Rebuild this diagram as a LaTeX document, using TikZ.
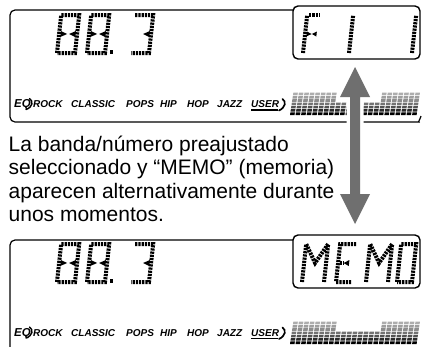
\documentclass[tikz,border=0pt]{standalone}
\usepackage{fontspec}
\setmainfont{Liberation Sans}
\usetikzlibrary{calc}
\definecolor{arrowgray}{HTML}{6F6F6F}
\tikzset{
  panel/.style={line width=1.2pt, draw=black, rounded corners=5pt},
  lcdbox/.style={line width=1.4pt, draw=black, rounded corners=5pt},
  segline/.style={line width=4pt, dash pattern=on 2.2pt off 1pt},
  desc/.style={anchor=base west, inner sep=0pt, font=\fontsize{21}{23}\selectfont},
  eqlab/.style={anchor=base west, inner sep=0pt, font=\fontsize{10}{10}\selectfont\bfseries\itshape},
  eqbig/.style={anchor=base west, inner sep=0pt, font=\fontsize{11.5}{12}\selectfont\bfseries\itshape},
  curl/.style={line width=1.4pt, line cap=round},
}
\newcommand\DigitScope[3]{\begin{scope}[shift={(#1,#2)}, xslant=0.11]#3\end{scope}}
\newcommand\GLeft{\fill (1.5,-16) -- (8,-19) -- (1.5,-22) -- cycle;}
\newcommand\GRight[1]{\fill ({#1-1.5},-16) -- ({#1-8},-19) -- ({#1-1.5},-22) -- cycle;}
\newcommand\Eight{\draw[segline] (0,0) rectangle (18,-38); \GLeft \GRight{18}}
\newcommand\Three{\draw[segline] (0,-38) -- (18,-38) -- (18,0) -- (0,0); \GRight{18}}
\newcommand\LetterM{\draw[segline] (0,0) -- (0,-38) -- (11,-19) -- (22,-38) -- (22,0);}
\newcommand\LetterE{\draw[segline] (16,-38) -- (0,-38) -- (0,0) -- (16,0); \draw[segline] (1.5,-19) -- (5,-19); \fill (11,-16) -- (5.5,-19) -- (11,-22) -- cycle;}
\newcommand\LetterO{\draw[segline] (0,0) rectangle (15,-38);}
\newcommand\LetterF{\draw[segline] (0,0) -- (0,-38); \draw[segline] (2,-38) -- (12,-38); \fill (1.5,-16.5) -- (6.5,-19) -- (1.5,-21.5) -- cycle; \fill (11.5,-16.5) -- (6.8,-19) -- (11.5,-21.5) -- cycle;}
\newcommand\LetterOne{\draw[segline] (0,0) -- (0,-38);}
\newcommand\Spectrum{%
  \foreach \c in {0,...,22} {
    \pgfmathtruncatemacro\nrows{(\c<8 || \c>15) ? 7 : 4}
    \foreach \r in {1,...,\nrows} {
      \pgfmathsetmacro\sh{{100,84,68,55,45,38,32}[\r-1]}
      \fill[black!\sh] ({\c*5.55},{-(\r-1)*3.3}) rectangle ++(4.5,-2.6);
    }
  }}
\newcommand\EqRow{%
  \node[eqbig] (eq) at (14,0) {EQ};
  \draw[curl] (29.5,-9) .. controls (33.5,-6.5) and (33,-0.5) .. (26,2);
  \node[eqlab] (rock) at (33,0) {ROCK};
  \node[eqlab] (classic) at (71,0) {CLASSIC};
  \node[eqlab] (pops) at (126,0) {POPS};
  \node[eqlab] (hip) at (160,0) {HIP};
  \node[eqlab] (hop) at (187,0) {HOP};
  \node[eqlab] (jazz) at (217,0) {JAZZ};
  \node[eqlab] (user) at (251,0) {USER};
  \draw[line width=1.3pt] (user.base west) ++(0,2.4) -- ++(27,0);
  \draw[curl, line width=1.7pt] (282.5,-8.5) .. controls (286.5,-6) and (285.5,0) .. (279,3);
}
\begin{document}
\begin{tikzpicture}[x=1pt, y=-1pt]
\useasboundingbox (0,0) rectangle (423,346);
\clip (0,0) rectangle (423,346);
% ---------- top panel ----------
\draw[panel] (293,10) -- (10,10) -- (10,122) -- (414,122) [sharp corners] .. controls (418,122) and (420,119.5) .. (421,116);
\draw[lcdbox] (293,6) rectangle (420,59);
\DigitScope{57}{53}{\Eight}
\DigitScope{87}{53}{\Eight}
\fill (109.5,50) rectangle (113,53.5);
\DigitScope{131}{53}{\Three}
\DigitScope{303}{53}{\LetterF}
\DigitScope{349}{53}{\LetterOne}
\DigitScope{412}{53}{\LetterOne}
\begin{scope}[shift={(0,107.5)}]\EqRow\end{scope}
\begin{scope}[shift={(290,115)}, xslant=0.15]\Spectrum\end{scope}
% ---------- bottom panel ----------
\draw[panel] (293,240) -- (10,240) -- (10,352) -- (414,352);
\draw[lcdbox] (293,235) rectangle (420,288);
\DigitScope{57}{282}{\Eight}
\DigitScope{87}{282}{\Eight}
\fill (109.5,279) rectangle (113,282.5);
\DigitScope{131}{282}{\Three}
\DigitScope{302}{282}{\LetterM}
\DigitScope{336}{282}{\LetterE}
\DigitScope{366}{282}{\LetterM}
\DigitScope{397}{282}{\LetterO}
\begin{scope}[shift={(0,336)}]\EqRow\end{scope}
\begin{scope}[shift={(290,344)}, xslant=0.15]\Spectrum\end{scope}
% ---------- double arrow ----------
\coordinate (atop) at (355,67);
\coordinate (abot) at (355,224);
\path[fill=white, draw=white, line width=7pt, line join=round]
  (atop) -- ([shift={(15,30)}]atop) -- ([shift={(5,30)}]atop) -- ([shift={(5,-30)}]abot)
  -- ([shift={(15,-30)}]abot) -- (abot) -- ([shift={(-15,-30)}]abot) -- ([shift={(-5,-30)}]abot)
  -- ([shift={(-5,30)}]atop) -- ([shift={(-15,30)}]atop) -- cycle;
\fill[arrowgray]
  (atop) -- ([shift={(15,30)}]atop) -- ([shift={(5,30)}]atop) -- ([shift={(5,-30)}]abot)
  -- ([shift={(15,-30)}]abot) -- (abot) -- ([shift={(-15,-30)}]abot) -- ([shift={(-5,-30)}]abot)
  -- ([shift={(-5,30)}]atop) -- ([shift={(-15,30)}]atop) -- cycle;
% ---------- description ----------
\node[desc] (l1) at (8.5,151.5) {La banda/número preajustado};
\node[desc] (l2) at (8.5,174.8) {seleccionado y “MEMO” (memoria)};
\node[desc] (l3) at (8.5,198.1) {aparecen alternativamente durante};
\node[desc] (l4) at (8.5,221.4) {unos momentos.};
\end{tikzpicture}
\end{document}
